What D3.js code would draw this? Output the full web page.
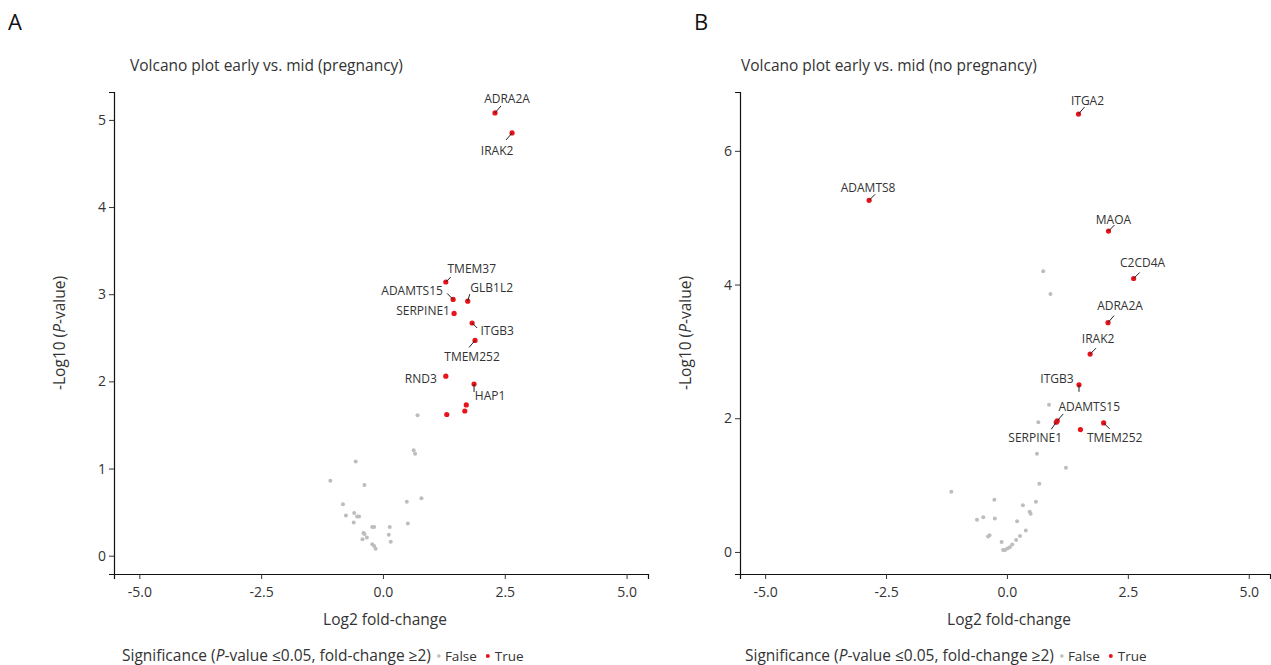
<!DOCTYPE html>
<html>
<head>
<meta charset="utf-8">
<script src="https://cdn.jsdelivr.net/npm/d3@7"></script>
<style>
  body { margin: 0; background: #fff; }
  svg { font-family: "Open Sans", "Noto Sans", sans-serif; }
</style>
</head>
<body>
<div id="js_chart"></div>
<script>
// ---- data: [gene, log2 fold-change, -log10 p] ----
const sigA = [
    ["ADRA2A", 2.30, 5.08], ["IRAK2", 2.65, 4.85], ["TMEM37", 1.29, 3.14],
    ["ADAMTS15", 1.44, 2.94], ["GLB1L2", 1.74, 2.92], ["SERPINE1", 1.46, 2.78],
    ["ITGB3", 1.83, 2.67], ["TMEM252", 1.89, 2.47], ["RND3", 1.29, 2.06],
    ["HAP1", 1.87, 1.97], ["", 1.71, 1.73], ["", 1.68, 1.66], ["", 1.31, 1.62]
];
const nsA = [
    [0.71, 1.61], [0.63, 1.21], [0.66, 1.17], [-0.56, 1.08], [-1.08, 0.86],
    [-0.38, 0.81], [-0.82, 0.59], [0.49, 0.62], [0.79, 0.66], [-0.59, 0.49],
    [-0.76, 0.46], [-0.53, 0.45], [-0.49, 0.45], [-0.60, 0.38], [0.51, 0.37],
    [-0.22, 0.33], [-0.18, 0.33], [0.14, 0.33], [-0.40, 0.26], [-0.38, 0.25],
    [0.12, 0.24], [-0.33, 0.21], [-0.42, 0.19], [0.16, 0.16], [-0.22, 0.13],
    [-0.18, 0.11], [-0.15, 0.08]
];
const sigB = [
    ["ITGA2", 1.48, 6.55], ["ADAMTS8", -2.85, 5.26], ["MAOA", 2.10, 4.80],
    ["C2CD4A", 2.62, 4.09], ["ADRA2A", 2.09, 3.43], ["IRAK2", 1.72, 2.96],
    ["ITGB3", 1.49, 2.50], ["ADAMTS15", 1.04, 1.96], ["SERPINE1", 1.02, 1.94],
    ["TMEM252", 2.00, 1.93], ["", 1.52, 1.83]
];
const nsB = [
    [0.75, 4.20], [0.90, 3.86], [0.87, 2.20], [0.65, 1.94], [0.62, 1.47],
    [1.22, 1.26], [0.67, 1.02], [-1.15, 0.90], [-0.26, 0.78], [0.60, 0.75],
    [0.33, 0.70], [0.47, 0.60], [0.49, 0.57], [-0.49, 0.52], [-0.62, 0.48],
    [-0.25, 0.50], [0.21, 0.46], [0.39, 0.32], [-0.36, 0.25], [-0.39, 0.23],
    [0.27, 0.24], [0.19, 0.18], [-0.11, 0.15], [0.11, 0.11], [0.06, 0.07],
    [0.01, 0.05], [-0.04, 0.03], [-0.08, 0.03]
];
const xTicks = [-5, -2.5, 0, 2.5, 5];
const yTicksA = [0, 1, 2, 3, 4, 5];
const yTicksB = [0, 2, 4, 6];

// label placement (pixel offsets of text centre and of leader end, relative to the point)
const labelsA = {
    ADRA2A: [12, -14, 6, -7], IRAK2: [-15, 18, -6, 7], TMEM37: [26, -14, 5, -5],
    ADAMTS15: [-41, -9, -6, -6], GLB1L2: [24, -14, 2, -7], SERPINE1: [-31, -3],
    ITGB3: [25, 8, 5, 5], TMEM252: [-3, 16, -6, 7], RND3: [-25, 2], HAP1: [16, 12, 0, 8]
};
const labelsB = {
    ITGA2: [9, -14, 6, -7], ADAMTS8: [-1, -13, 6, -6], MAOA: [5, -12, 6, -6],
    C2CD4A: [9, -16, 6, -6], ADRA2A: [12, -17, 6, -7], IRAK2: [8, -16, 6, -6],
    ITGB3: [-22, -6, 0, 7], ADAMTS15: [32, -14, 6, -7], SERPINE1: [-21, 15, -5, 7],
    TMEM252: [11, 15, 6, 6]
};

const W = 1271, H = 665;
const svg = d3.select("#js_chart").append("svg").attr("width", W).attr("height", H);

function fmt(dec) {
    // plain hyphen for negatives, like the original
    return function (d) { return d3.format(dec)(d).replace("\u2212", "-"); };
}

function panel(opt) {
    let x = d3.scaleLinear().domain([-5.52, 5.44]).range([opt.left, opt.right]);
    let y = d3.scaleLinear().domain(opt.yDomain).range([574, 92]);
    let g = svg.append("g");

    g.append("text").attr("x", opt.letterX).attr("y", 30)
        .attr("font-size", 22).attr("fill", "#111").text(opt.letter);
    g.append("text").attr("x", opt.titleX).attr("y", 71)
        .attr("font-size", 15.5).attr("fill", "#333").text(opt.title);

    let xa = g.append("g").attr("transform", "translate(0,574)")
        .call(d3.axisBottom(x).tickValues(xTicks).tickFormat(fmt(".1f")).tickSizeOuter(0).tickSize(5));
    let ya = g.append("g").attr("transform", "translate(" + opt.left + ",0)")
        .call(d3.axisLeft(y).tickValues(opt.yTicks).tickFormat(fmt("d")).tickSizeOuter(0).tickSize(5));
    [xa, ya].forEach(function (a) {
        a.selectAll("text").attr("font-size", 14).attr("fill", "#333")
            .attr("font-family", "'Open Sans', sans-serif");
        a.select(".domain").attr("stroke", "#111").attr("stroke-width", 1.2);
        a.selectAll(".tick line").attr("stroke", "#333");
    });
    xa.selectAll("text").attr("dy", "1.1em");

    g.append("text").attr("x", (opt.left + opt.right) / 2 + 4).attr("y", 625)
        .attr("text-anchor", "middle").attr("font-size", 15.5).attr("fill", "#333")
        .text("Log2 fold-change");
    let yl = g.append("text")
        .attr("transform", "translate(" + (opt.left - 49) + ",333) rotate(-90)")
        .attr("text-anchor", "middle").attr("font-size", 15.5).attr("fill", "#333");
    yl.append("tspan").text("-Log10 (");
    yl.append("tspan").attr("font-style", "italic").text("P");
    yl.append("tspan").text("-value)");

    g.append("g").selectAll("circle").data(opt.ns).enter().append("circle")
        .attr("cx", function (d) { return x(d[0]); })
        .attr("cy", function (d) { return y(d[1]); })
        .attr("r", 2).attr("fill", "#bdbdbd");
    g.append("g").selectAll("circle").data(opt.sig).enter().append("circle")
        .attr("cx", function (d) { return x(d[1]); })
        .attr("cy", function (d) { return y(d[2]); })
        .attr("r", 2.6).attr("fill", "#e8141c");

    let lab = opt.sig.filter(function (d) { return opt.labels[d[0]]; });
    g.append("g").selectAll("line").data(lab.filter(function (d) { return opt.labels[d[0]].length > 2; }))
        .enter().append("line")
        .attr("x1", function (d) { return x(d[1]); })
        .attr("y1", function (d) { return y(d[2]); })
        .attr("x2", function (d) { return x(d[1]) + opt.labels[d[0]][2]; })
        .attr("y2", function (d) { return y(d[2]) + opt.labels[d[0]][3]; })
        .attr("stroke", "#222").attr("stroke-width", 1);
    g.append("g").selectAll("text").data(lab).enter().append("text")
        .attr("x", function (d) { return x(d[1]) + opt.labels[d[0]][0]; })
        .attr("y", function (d) { return y(d[2]) + opt.labels[d[0]][1]; })
        .attr("text-anchor", "middle").attr("dominant-baseline", "central")
        .attr("font-size", 12).attr("fill", "#333").text(function (d) { return d[0]; });

    // legend
    let leg = g.append("text").attr("x", opt.legendX).attr("y", 661)
        .attr("font-size", 15.5).attr("fill", "#333");
    leg.append("tspan").text("Significance (");
    leg.append("tspan").attr("font-style", "italic").text("P");
    leg.append("tspan").text("-value \u22640.05, fold-change \u22652)");
    let lx = opt.legendX + leg.node().getComputedTextLength();
    g.append("circle").attr("cx", lx + 8).attr("cy", 656).attr("r", 1.8).attr("fill", "#bdbdbd");
    let f = g.append("text").attr("x", lx + 14).attr("y", 661).attr("font-size", 13.5)
        .attr("fill", "#333").text("False");
    let fx = lx + 14 + f.node().getComputedTextLength();
    g.append("circle").attr("cx", fx + 11).attr("cy", 656).attr("r", 2).attr("fill", "#e8141c");
    g.append("text").attr("x", fx + 18).attr("y", 661).attr("font-size", 13.5)
        .attr("fill", "#333").text("True");
}

panel({ left: 114, right: 648, yDomain: [-0.21, 5.32], yTicks: yTicksA, sig: sigA, ns: nsA,
        labels: labelsA, letter: "A", letterX: 8, titleX: 130, legendX: 122,
        title: "Volcano plot early vs. mid (pregnancy)" });
panel({ left: 740, right: 1270, yDomain: [-0.33, 6.88], yTicks: yTicksB, sig: sigB, ns: nsB,
        labels: labelsB, letter: "B", letterX: 694, titleX: 741, legendX: 745,
        title: "Volcano plot early vs. mid (no pregnancy)" });
</script>
</body>
</html>
